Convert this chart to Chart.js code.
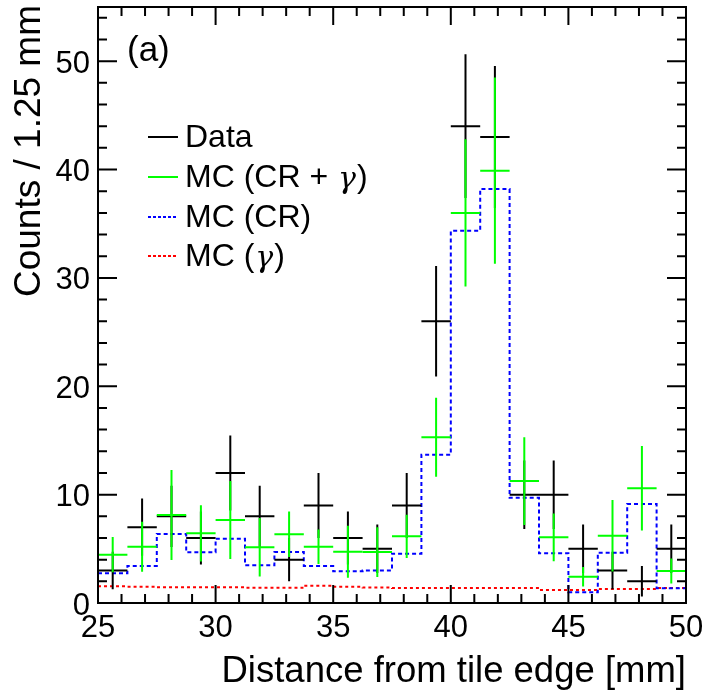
<!DOCTYPE html>
<html>
<head>
<meta charset="utf-8">
<script src="https://cdn.jsdelivr.net/npm/chart.js@4.4.0/dist/chart.umd.min.js"></script>
<style>
html,body{margin:0;padding:0;background:#fff;}
#wrap{width:706px;height:692px;position:relative;}
</style>
</head>
<body>
<div id="wrap"><canvas id="c" width="706" height="692"></canvas></div>
<script>
// ---- data ----
const binEdges = [25,26.25,27.5,28.75,30,31.25,32.5,33.75,35,36.25,37.5,38.75,40,41.25,42.5,43.75,45,46.25,47.5,48.75,50];
const binCenters = [25.625,26.875,28.125,29.375,30.625,31.875,33.125,34.375,35.625,36.875,38.125,39.375,40.625,41.875,43.125,44.375,45.625,46.875,48.125,49.375];
const dataCounts = [3,7,8,6,12,8,4,9,6,5,9,26,44,43,10,10,5,3,2,5];
const dataErr = [1.73,2.65,2.83,2.45,3.46,2.83,2.0,3.0,2.45,2.24,3.0,5.1,6.63,6.56,3.16,3.16,2.24,1.73,1.41,2.24];
const mcSum = [4.46,5.19,8.12,6.43,7.66,5.14,6.34,5.19,4.73,4.7,6.15,15.3,36.0,39.9,11.25,6.06,2.43,6.2,10.58,2.95];
const mcSumErr = [1.63,2.3,4.15,2.6,3.6,2.7,2.1,1.6,2.4,2.3,2.0,3.65,6.8,8.6,4.05,2.2,0.9,3.3,3.9,1.15];
const mcCR = [2.74,3.41,6.37,4.68,5.93,3.48,4.7,3.41,2.92,3.0,4.55,13.68,34.35,38.2,9.71,4.58,0.99,4.64,9.13,1.36];
const mcGamma = [1.54,1.5,1.45,1.45,1.45,1.4,1.4,1.6,1.5,1.42,1.38,1.38,1.38,1.38,1.38,1.2,1.2,1.3,1.3,1.38];
const xTicks = [25,30,35,40,45,50];
const yTicks = [0,10,20,30,40,50];
const xMinorStep = 1;
const yMinorStep = 2;
const legendLabels = [['Data'], ['MC (CR + ', '\u03b3', ')'], ['MC (CR)'], ['MC (', '\u03b3', ')']];

const FONT = "'Liberation Sans', Arial, Helvetica, sans-serif";
const SERIF = "'DejaVu Serif', 'Liberation Serif', serif";

function stepPoints(vals){
  const pts = vals.map((v,i)=>({x:binEdges[i], y:v}));
  pts.push({x:binEdges[binEdges.length-1], y:vals[vals.length-1]});
  return pts;
}

function drawRich(ctx, parts, x, y, size){
  let cx = x;
  parts.forEach((p)=>{
    const greek = p === '\u03b3';
    ctx.font = (greek ? "italic "+(size-2)+"px "+SERIF : size+"px "+FONT);
    ctx.fillText(p, cx + (greek?1:0), y + (greek?2:0));
    cx += ctx.measureText(p).width + (greek?2:0);
  });
}

const crossPlugin = {
  id:'cross',
  afterDatasetsDraw(chart){
    const ctx = chart.ctx, xs = chart.scales.x, ys = chart.scales.y;
    ctx.save();
    ctx.beginPath();
    ctx.rect(chart.chartArea.left, chart.chartArea.top, chart.chartArea.right-chart.chartArea.left, chart.chartArea.bottom-chart.chartArea.top);
    ctx.clip();
    const sets = [[dataCounts, dataErr, '#000000'], [mcSum, mcSumErr, '#00ff00']];
    for (const [vals, errs, col] of sets){
      ctx.strokeStyle = col; ctx.lineWidth = 2; ctx.lineCap='butt';
      for (let i=0;i<vals.length;i++){
        const xl = xs.getPixelForValue(binEdges[i]);
        const xr = xs.getPixelForValue(binEdges[i+1]);
        const xc = xs.getPixelForValue(binCenters[i]);
        const yc = ys.getPixelForValue(vals[i]);
        const y1 = ys.getPixelForValue(vals[i]-errs[i]);
        const y2 = ys.getPixelForValue(vals[i]+errs[i]);
        ctx.beginPath();
        ctx.moveTo(xl, yc); ctx.lineTo(xr, yc);
        ctx.moveTo(xc, y1); ctx.lineTo(xc, y2);
        ctx.stroke();
      }
    }
    ctx.restore();
  },
  afterDraw(chart){
    const ctx = chart.ctx, xs = chart.scales.x, ys = chart.scales.y;
    const a = chart.chartArea;
    ctx.save();
    // frame
    ctx.strokeStyle='#000'; ctx.lineWidth=2;
    ctx.strokeRect(a.left, a.top, a.right-a.left, a.bottom-a.top);
    // ticks
    ctx.beginPath();
    for (let v=xTicks[0]; v<=xTicks[xTicks.length-1]+1e-9; v+=xMinorStep){
      const major = xTicks.some(t=>Math.abs(t-v)<1e-9);
      const L = major?18:9;
      const px = xs.getPixelForValue(v);
      ctx.moveTo(px, a.bottom); ctx.lineTo(px, a.bottom-L);
      ctx.moveTo(px, a.top); ctx.lineTo(px, a.top+L);
    }
    for (let v=0; v<=ys.max+1e-9; v+=yMinorStep){
      const major = yTicks.some(t=>Math.abs(t-v)<1e-9);
      const L = major?19:9;
      const py = ys.getPixelForValue(v);
      ctx.moveTo(a.left, py); ctx.lineTo(a.left+L, py);
      ctx.moveTo(a.right, py); ctx.lineTo(a.right-L, py);
    }
    ctx.stroke();
    // titles
    ctx.fillStyle='#000';
    ctx.font = "36.5px "+FONT;
    ctx.textAlign='right'; ctx.textBaseline='alphabetic';
    ctx.fillText('Distance from tile edge [mm]', a.right, 682);
    ctx.save();
    ctx.translate(40, 5);
    ctx.rotate(-Math.PI/2);
    ctx.font = "37px "+FONT;
    ctx.fillText('Counts / 1.25 mm', 0, 0);
    ctx.restore();
    // (a)
    ctx.textAlign='left'; ctx.textBaseline='middle';
    ctx.font = "35px "+FONT;
    ctx.fillText('(a)', 127, 51);
    // legend
    const rows = [137,177,217,256];
    const styles = [
      {c:'#000000', d:[]},
      {c:'#00ff00', d:[]},
      {c:'#0000ff', d:[3,2]},
      {c:'#ff0000', d:[3,2]}
    ];
    for (let i=0;i<legendLabels.length;i++){
      ctx.strokeStyle = styles[i].c; ctx.lineWidth=2; ctx.setLineDash(styles[i].d);
      ctx.beginPath(); ctx.moveTo(148, rows[i]); ctx.lineTo(178, rows[i]); ctx.stroke();
      ctx.setLineDash([]);
      ctx.fillStyle='#000';
      drawRich(ctx, legendLabels[i], 185, rows[i]+1, 32);
    }
    ctx.restore();
  }
};

new Chart(document.getElementById('c'), {
  type:'line',
  data:{
    datasets:[
      {label:'MC (CR)', data:stepPoints(mcCR), stepped:'before', borderColor:'#0000ff', borderWidth:2, borderDash:[4,3], pointRadius:0, fill:false},
      {label:'MC (\u03b3)', data:stepPoints(mcGamma), stepped:'before', borderColor:'#ff0000', borderWidth:2, borderDash:[3,3], pointRadius:0, fill:false}
    ]
  },
  options:{
    responsive:false, animation:false,
    layout:{padding:{top:7,right:20,left:0,bottom:0}},
    plugins:{legend:{display:false}, tooltip:{enabled:false}},
    scales:{
      x:{type:'linear', min:25, max:50,
        afterBuildTicks(s){ s.ticks = xTicks.map(v=>({value:v})); },
        afterFit(s){ s.height = 89; s.paddingLeft = 0; s.paddingRight = 0; },
        grid:{display:false, drawTicks:false}, border:{display:false},
        ticks:{padding:7, color:'#000', font:{family:FONT, size:31}, maxRotation:0, autoSkip:false}
      },
      y:{type:'linear', min:0, max:55,
        afterBuildTicks(s){ s.ticks = yTicks.map(v=>({value:v})); },
        afterFit(s){ s.width = 98; s.paddingTop = 0; s.paddingBottom = 0; },
        grid:{display:false, drawTicks:false}, border:{display:false},
        ticks:{padding:8, labelOffset:3, color:'#000', font:{family:FONT, size:31}, autoSkip:false}
      }
    }
  },
  plugins:[crossPlugin]
});
</script>
</body>
</html>
